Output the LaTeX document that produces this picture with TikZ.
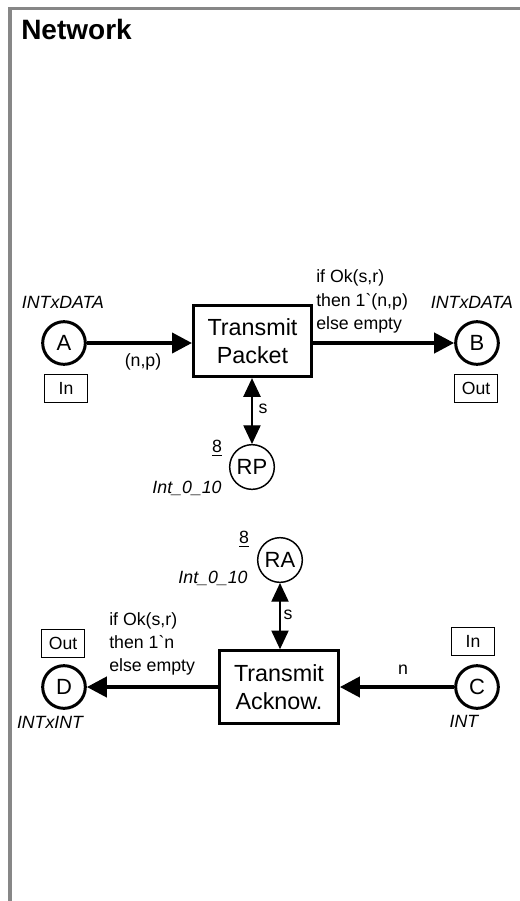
\documentclass[tikz,border=0pt]{standalone}
\usepackage{fontspec}
\setmainfont{Liberation Sans}
\usetikzlibrary{arrows.meta}
\definecolor{cerceveGri}{HTML}{878787}

\begin{document}
\begin{tikzpicture}[x=0.75pt,y=-0.75pt,
  yer/.style={circle,draw,line width=2.25pt,minimum size=32pt,inner sep=0pt,font=\fontsize{16.5}{18}\selectfont},
  sayac/.style={circle,draw,line width=1.1pt,minimum size=33.5pt,inner sep=0pt,font=\fontsize{16.5}{18}\selectfont},
  gecis/.style={draw,line width=2.25pt,align=center,inner sep=0pt,font=\fontsize{17.5}{21.5}\selectfont},
  port/.style={draw,line width=0.75pt,minimum width=32pt,minimum height=21pt,inner sep=0pt,font=\fontsize{13.2}{15}\selectfont},
  etiket/.style={inner sep=0pt,font=\fontsize{13.3}{17.5}\selectfont},
  tur/.style={inner sep=0pt,font=\fontsize{13.3}{17.5}\selectfont\itshape},
  kalinOk/.style={line width=3pt,-{Triangle[length=15pt,width=15pt]}},
  inceOk/.style={line width=0.8pt,{Triangle[length=14pt,width=13pt]}-{Triangle[length=14pt,width=13pt]}}]
\useasboundingbox (0,0) rectangle (520,901);
% cerceve
\draw[cerceveGri,line width=3pt] (10,901) -- (10,8.5);
\draw[cerceveGri,line width=2.25pt] (8,8.5) -- (520,8.5);
\node[anchor=west,inner sep=0pt,font=\bfseries\fontsize{21}{24}\selectfont] (baslik) at (21,29) {Network};
% yerler
\node[yer] (A) at (64,343) {A};
\node[yer] (B) at (477,343) {B};
\node[yer] (C) at (477,687) {C};
\node[yer] (D) at (64,687) {D};
\node[sayac] (RP) at (252,467) {RP};
\node[sayac] (RA) at (280,560) {RA};
% gecisler
\node[gecis,minimum width=88.5pt,minimum height=53.5pt] (paket) at (252.5,341) {Transmit\\Packet};
\node[gecis,minimum width=89pt,minimum height=54.5pt] (onay) at (279,687) {Transmit\\Acknow.};
% arklar
\draw[kalinOk] (A) -- (A -| paket.west);
\draw[kalinOk] (B -| paket.east) -- (B);
\draw[kalinOk] (C) -- (C -| onay.east);
\draw[kalinOk] (D -| onay.west) -- (D);
\draw[inceOk] (paket.south -| RP) -- (RP);
\draw[inceOk] (RA) -- (RA |- onay.north);
% ark yazilari
\node[etiket] (npEt) at (143,362) {(n,p)};
\node[etiket,anchor=west,align=left] (paketCikis) at (316,301.5) {if Ok(s,r)\\then 1\textasciigrave(n,p)\\else empty};
\node[etiket] (sUst) at (263,409) {s};
\node[etiket] (sAlt) at (288,615) {s};
\node[etiket,anchor=west,align=left] (onayCikis) at (109,644) {if Ok(s,r)\\then 1\textasciigrave n\\else empty};
\node[etiket] (nEt) at (403,670) {n};
% renk kumeleri ve portlar
\node[tur] (aTur) at (63,302) {INTxDATA};
\node[tur] (bTur) at (472,302) {INTxDATA};
\node[port] (aPort) at (66,388) {In};
\node[port] (bPort) at (476,388) {Out};
\node[etiket] (rpSayi) at (217,448) {\underline{8}};
\node[tur] (rpTur) at (187,488) {Int\_0\_10};
\node[etiket] (raSayi) at (244,539) {\underline{8}};
\node[tur] (raTur) at (213,578) {Int\_0\_10};
\node[port] (dPort) at (63,643) {Out};
\node[tur] (dTur) at (50,722) {INTxINT};
\node[port] (cPort) at (473,641) {In};
\node[tur] (cTur) at (464,721) {INT};
\end{tikzpicture}
\end{document}
